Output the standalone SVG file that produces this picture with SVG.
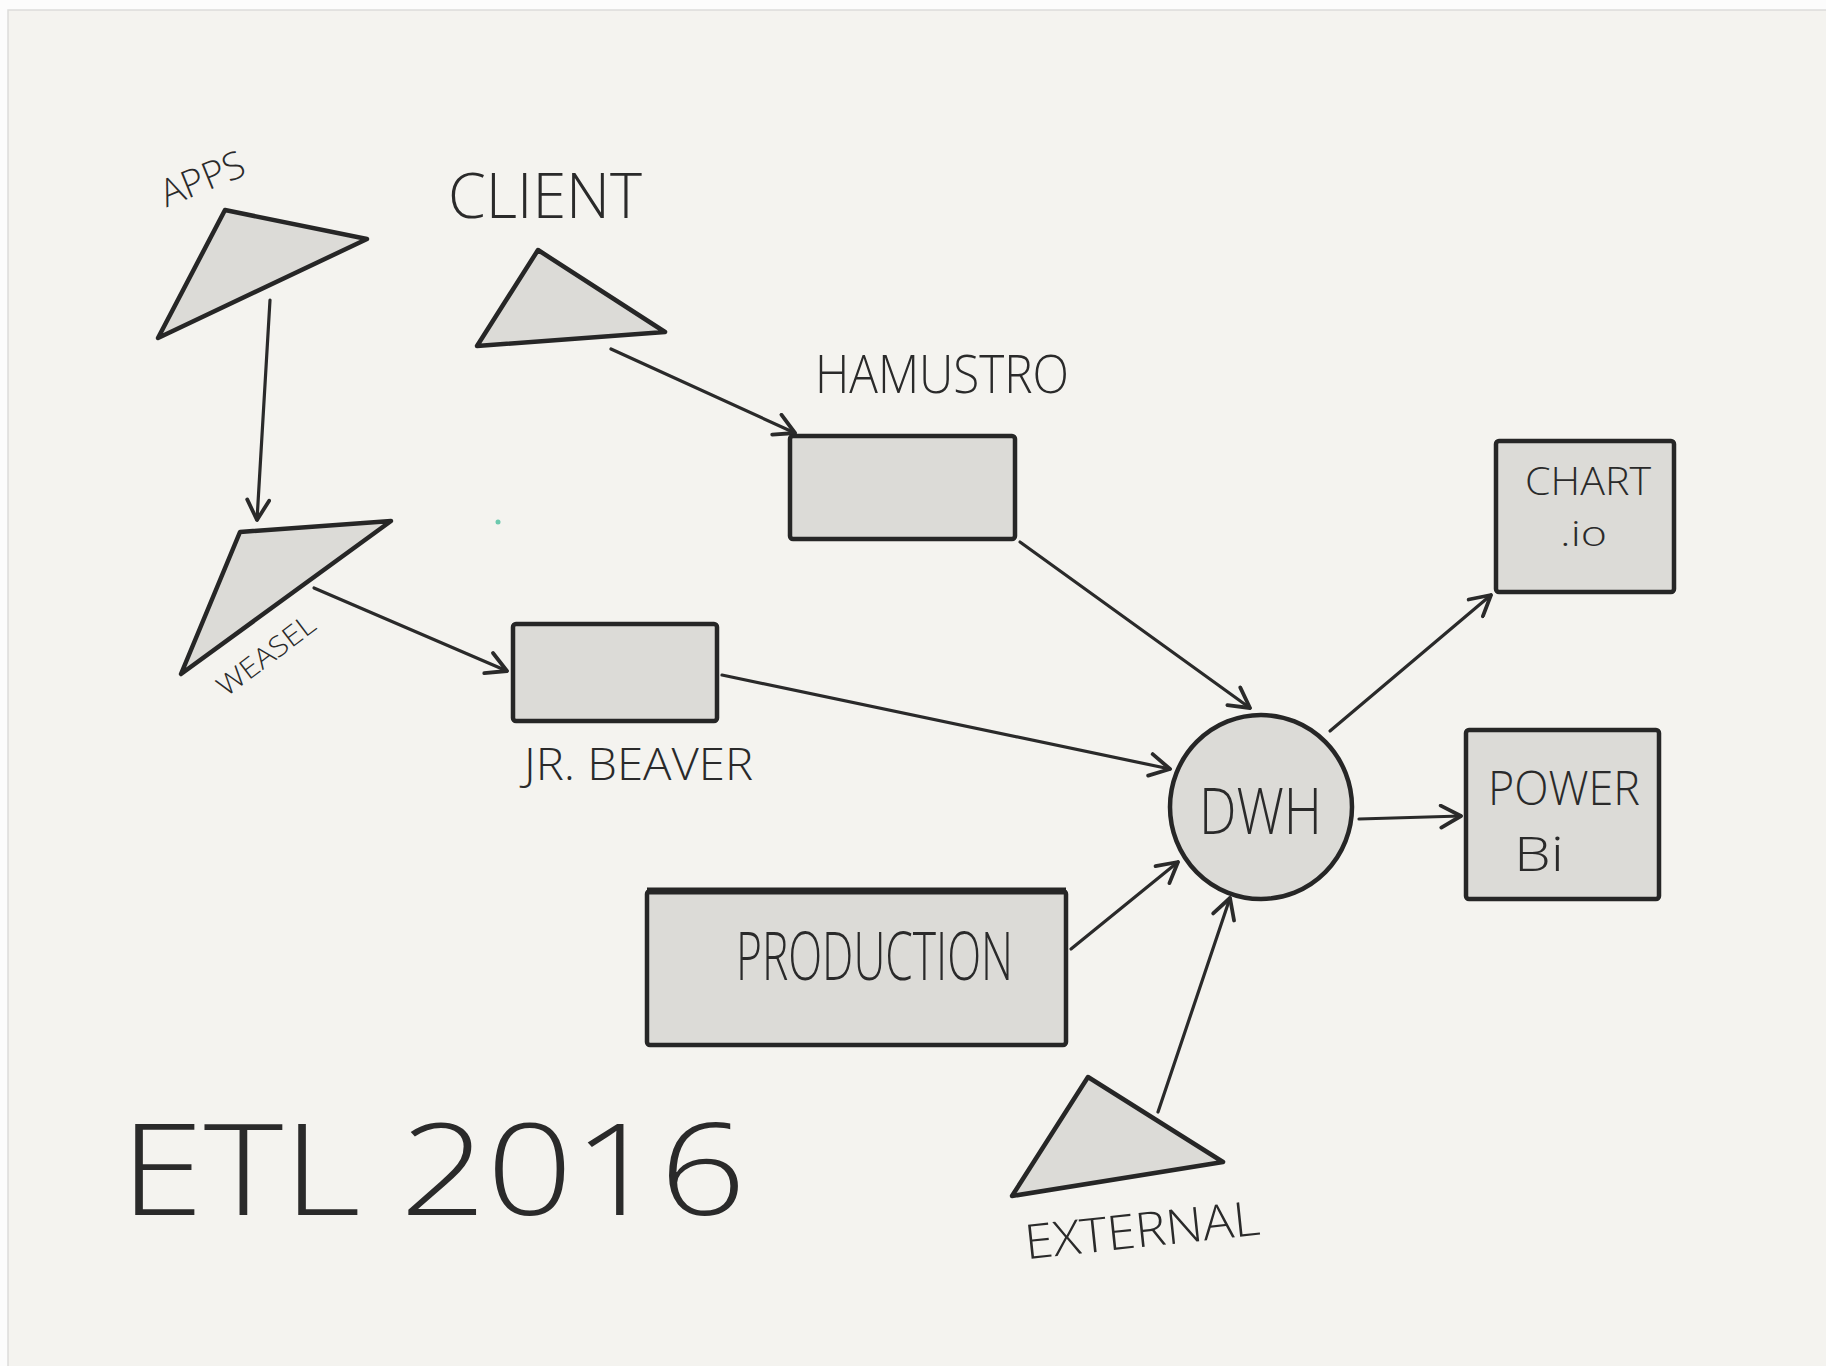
<svg xmlns="http://www.w3.org/2000/svg" width="1826" height="1366" viewBox="0 0 1826 1366">
<style>
.shape{fill:#dcdbd7;stroke:#262626;stroke-width:4.5;stroke-linejoin:round}
.conn{fill:none;stroke:#2a2a2a;stroke-width:3.2;stroke-linecap:round}
.lbl{font-family:"Open Sans","Liberation Sans",sans-serif;font-weight:300;fill:#2a2a2a}
</style>
<defs>
<marker id="arr" markerUnits="userSpaceOnUse" viewBox="0 0 26 26" refX="23" refY="13" markerWidth="26" markerHeight="26" orient="auto">
<path d="M3,2 L23,13 L3,24" fill="none" stroke="#2a2a2a" stroke-width="3.8" stroke-linecap="round" stroke-linejoin="round"/>
</marker>
</defs>
<rect x="0" y="0" width="1826" height="1366" fill="#fcfcfc"/>
<rect x="8" y="10" width="1830" height="1370" fill="#f4f3ef" stroke="#dcdcda" stroke-width="1.5"/>
<circle cx="498" cy="522" r="2.5" fill="#6cc9ae"/>

<g id="connectors">
<line class="conn" x1="270" y1="300" x2="257" y2="520" marker-end="url(#arr)"/>
<line class="conn" x1="314" y1="588" x2="507" y2="671" marker-end="url(#arr)"/>
<line class="conn" x1="611" y1="349" x2="795" y2="433" marker-end="url(#arr)"/>
<line class="conn" x1="722" y1="675" x2="1170" y2="769" marker-end="url(#arr)"/>
<line class="conn" x1="1020" y1="542" x2="1250" y2="708" marker-end="url(#arr)"/>
<line class="conn" x1="1330" y1="731" x2="1491" y2="595" marker-end="url(#arr)"/>
<line class="conn" x1="1359" y1="819" x2="1461" y2="816" marker-end="url(#arr)"/>
<line class="conn" x1="1071" y1="949" x2="1178" y2="862" marker-end="url(#arr)"/>
<line class="conn" x1="1158" y1="1112" x2="1230" y2="898" marker-end="url(#arr)"/>
</g>

<g id="apps">
<polygon class="shape" points="225,210 367,239 158,338"/>
<text class="lbl" x="202" y="192" font-size="38" text-anchor="middle" textLength="88" lengthAdjust="spacingAndGlyphs" transform="rotate(-22 202 178)">APPS</text>
</g>

<g id="client">
<polygon class="shape" points="538,250 665,332 477,346"/>
<text class="lbl" x="448" y="218" font-size="62" textLength="194" lengthAdjust="spacingAndGlyphs">CLIENT</text>
</g>

<g id="weasel">
<polygon class="shape" points="240,532 391,521 181,674"/>
<text class="lbl" x="266" y="665" font-size="28" text-anchor="middle" textLength="115" lengthAdjust="spacingAndGlyphs" transform="rotate(-37 266 655)">WEASEL</text>
</g>

<g id="jrbeaver">
<rect class="shape" x="513" y="624" width="204" height="97" rx="3"/>
<text class="lbl" x="524" y="780" font-size="44" textLength="229" lengthAdjust="spacingAndGlyphs">JR. BEAVER</text>
</g>

<g id="hamustro">
<rect class="shape" x="790" y="436" width="225" height="103" rx="3"/>
<text class="lbl" x="815" y="393" font-size="54" textLength="254" lengthAdjust="spacingAndGlyphs">HAMUSTRO</text>
</g>

<g id="dwh">
<ellipse class="shape" cx="1261" cy="807" rx="91" ry="92"/>
<text class="lbl" x="1199" y="834" font-size="64" textLength="123" lengthAdjust="spacingAndGlyphs">DWH</text>
</g>

<g id="chartio">
<rect class="shape" x="1496" y="441" width="178" height="151" rx="3"/>
<text class="lbl" x="1525" y="495" font-size="38" textLength="126" lengthAdjust="spacingAndGlyphs">CHART</text>
<text class="lbl" x="1560" y="546" font-size="34" textLength="47" lengthAdjust="spacingAndGlyphs">.io</text>
</g>

<g id="powerbi">
<rect class="shape" x="1466" y="730" width="193" height="169" rx="3"/>
<text class="lbl" x="1488" y="805" font-size="48" textLength="152" lengthAdjust="spacingAndGlyphs">POWER</text>
<text class="lbl" x="1514" y="871" font-size="48" textLength="50" lengthAdjust="spacingAndGlyphs">Bi</text>
</g>

<g id="production">
<rect class="shape" x="647" y="891" width="419" height="154" rx="3"/>
<line x1="647" y1="891" x2="1066" y2="891" stroke="#262626" stroke-width="7"/>
<text class="lbl" x="736" y="980" font-size="66" textLength="277" lengthAdjust="spacingAndGlyphs">PRODUCTION</text>
</g>

<g id="external">
<polygon class="shape" points="1088,1077 1223,1162 1012,1196"/>
<text class="lbl" x="1024" y="1247" font-size="48" textLength="236" lengthAdjust="spacingAndGlyphs" transform="rotate(-6 1142 1230)">EXTERNAL</text>
</g>

<g id="title">
<text class="lbl" x="120" y="1215" font-size="128" font-weight="200" textLength="626" lengthAdjust="spacingAndGlyphs">ETL 2016</text>
</g>
</svg>
